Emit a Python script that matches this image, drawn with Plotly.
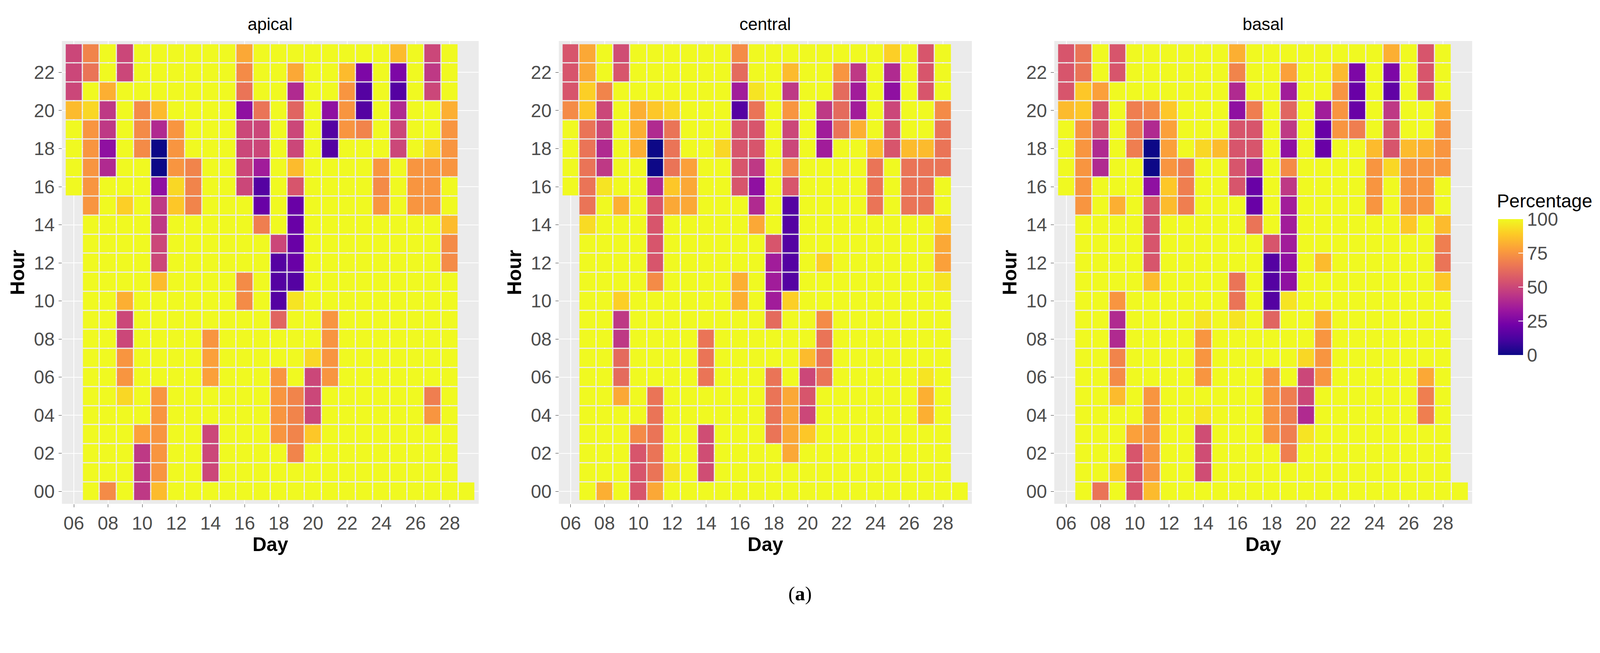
import plotly.graph_objects as go

N = None
days = list(range(6, 30))
hours = list(range(0, 24))
x_tick_vals = list(range(6, 29, 2))
x_tick_text = ["06", "08", "10", "12", "14", "16", "18", "20", "22", "24", "26", "28"]
y_tick_vals = list(range(0, 23, 2))
y_tick_text = ["00", "02", "04", "06", "08", "10", "12", "14", "16", "18", "20", "22"]
panel_titles = ["apical", "central", "basal"]

# rows = hours 0..23, columns = days 6..29
apical = [
    [N,100,72,100,45,85,100,100,100,100,100,100,100,100,100,100,100,100,100,100,100,100,100,100],
    [N,100,100,100,45,75,100,100,50,100,100,100,100,100,100,100,100,100,100,100,100,100,100,N],
    [N,100,100,100,45,75,100,100,50,100,100,100,100,70,100,100,100,100,100,100,100,100,100,N],
    [N,100,100,100,78,75,100,100,50,100,100,100,75,70,88,100,100,100,100,100,100,100,100,N],
    [N,100,100,100,100,75,100,100,100,100,100,100,75,70,50,100,100,100,100,100,100,75,100,N],
    [N,100,100,92,100,75,100,100,100,100,100,100,75,70,50,100,100,100,100,100,100,68,100,N],
    [N,100,100,75,100,100,100,100,78,100,100,100,75,100,50,75,100,100,100,100,100,100,100,N],
    [N,100,100,75,100,100,100,100,78,100,100,100,100,100,92,75,100,100,100,100,100,100,100,N],
    [N,100,100,50,100,100,100,100,75,100,100,100,100,100,100,75,100,100,100,100,100,100,100,N],
    [N,100,100,50,100,100,100,100,100,100,100,100,60,100,100,75,100,100,100,100,100,100,100,N],
    [N,100,100,82,100,100,100,100,100,100,72,100,15,95,100,100,100,100,100,100,100,100,100,N],
    [N,100,100,100,100,85,100,100,100,100,72,100,15,15,100,100,100,100,100,100,100,100,100,N],
    [N,100,100,100,100,50,100,100,100,100,100,100,15,20,100,100,100,100,100,100,100,100,72,N],
    [N,100,100,100,100,50,100,100,100,100,100,100,50,20,100,100,100,100,100,100,100,100,72,N],
    [N,100,100,100,100,45,100,100,100,100,100,68,100,20,100,100,100,100,100,100,100,100,85,N],
    [N,75,100,90,100,45,88,70,100,100,100,20,100,20,100,100,100,100,75,100,75,75,100,N],
    [100,75,100,100,100,30,92,70,100,100,50,15,100,55,100,100,100,100,72,100,75,75,100,N],
    [100,75,40,100,100,0,75,70,100,100,50,35,100,85,100,100,100,100,75,100,75,75,75,N],
    [100,75,30,100,72,0,75,100,100,100,50,50,100,50,100,15,100,100,100,50,100,92,75,N],
    [100,75,45,100,72,40,75,100,100,100,50,50,100,50,100,15,75,70,100,50,100,100,75,N],
    [85,92,45,100,72,85,100,100,100,100,30,65,100,60,100,30,75,15,100,40,100,100,82,N],
    [50,100,82,100,100,100,100,100,100,100,65,100,100,40,100,100,75,15,100,15,100,50,100,N],
    [50,65,100,50,100,100,100,100,100,100,72,100,100,80,100,100,85,25,100,25,100,45,100,N],
    [50,70,100,50,100,100,100,100,100,100,80,100,100,100,100,100,100,100,100,85,100,50,100,N],
]

central = [
    [N,100,82,100,55,80,100,100,100,100,100,100,100,100,100,100,100,100,100,100,100,100,100,100],
    [N,100,100,100,55,65,95,100,52,100,100,100,100,100,100,100,100,100,100,100,100,100,100,N],
    [N,100,100,100,55,65,100,100,52,100,100,100,100,80,100,100,100,100,100,100,100,100,100,N],
    [N,100,100,100,72,65,100,100,52,100,100,100,65,80,88,100,100,100,100,100,100,100,100,N],
    [N,100,100,100,100,65,100,100,100,100,100,100,65,80,50,100,100,100,100,100,100,82,100,N],
    [N,100,100,80,100,65,100,100,100,100,100,100,65,80,55,100,100,100,100,100,100,82,100,N],
    [N,100,100,62,100,100,100,100,65,100,100,100,65,100,50,65,100,100,100,100,100,95,100,N],
    [N,100,100,62,100,100,100,100,65,100,100,100,100,100,85,65,100,100,100,100,100,100,100,N],
    [N,100,100,45,100,100,100,100,65,100,100,100,100,100,100,65,100,100,100,100,100,100,100,N],
    [N,100,100,45,100,100,100,100,100,100,100,100,62,100,100,72,100,100,100,100,100,100,100,N],
    [N,100,100,90,100,100,100,100,100,100,82,100,35,90,100,100,100,100,100,100,100,100,100,N],
    [N,100,100,100,100,72,100,100,100,100,82,100,35,15,100,100,100,100,100,100,100,100,95,N],
    [N,100,100,100,100,55,100,100,100,100,100,100,35,15,100,90,100,100,100,100,100,100,78,N],
    [N,100,100,100,100,55,100,100,100,100,100,100,55,15,100,100,100,100,100,100,100,100,80,N],
    [N,93,100,100,100,55,100,100,100,100,100,80,100,15,100,100,100,100,100,100,100,100,90,N],
    [N,65,100,82,100,55,80,80,100,100,100,40,100,15,100,100,100,100,65,100,65,65,100,N],
    [100,65,95,100,100,40,88,80,100,100,55,30,100,55,100,100,100,100,65,100,65,65,100,N],
    [100,65,45,100,100,0,65,78,100,100,55,45,100,72,100,100,100,100,65,100,65,65,65,N],
    [100,65,40,100,82,0,65,100,100,92,55,55,100,50,100,35,100,100,85,55,85,85,65,N],
    [100,65,50,100,82,40,65,100,100,100,55,55,100,50,100,35,65,82,100,55,100,100,65,N],
    [72,88,50,100,82,88,92,100,100,100,15,65,100,75,100,45,62,35,100,50,100,100,72,N],
    [55,90,70,100,100,100,100,100,100,100,35,95,100,45,100,100,62,35,100,30,100,55,100,N],
    [55,80,100,55,100,100,100,100,100,100,62,100,100,85,100,100,75,45,100,40,100,55,100,N],
    [55,80,100,52,100,100,100,100,100,100,72,100,100,100,100,100,100,100,100,90,100,55,100,N],
]

basal = [
    [N,100,65,100,55,85,100,100,100,100,100,100,100,100,100,100,100,100,100,100,100,100,100,100],
    [N,100,100,90,55,75,100,100,52,100,100,100,100,100,100,100,100,100,100,100,100,100,100,N],
    [N,100,100,100,55,75,100,100,52,100,100,100,100,68,100,100,100,100,100,100,100,100,100,N],
    [N,100,100,100,78,75,100,100,52,100,100,100,75,68,95,100,100,100,100,100,100,100,100,N],
    [N,100,100,100,100,75,100,100,95,100,100,100,75,68,40,100,100,100,100,100,100,68,100,N],
    [N,100,100,85,100,75,100,100,100,100,100,100,75,68,50,100,100,100,100,100,100,68,100,N],
    [N,100,100,72,100,100,100,100,75,100,100,100,75,100,50,75,100,100,100,100,100,80,100,N],
    [N,100,100,70,100,100,100,100,75,100,100,100,100,100,92,75,100,100,100,100,100,100,100,N],
    [N,100,100,40,100,100,100,100,75,100,100,100,100,100,100,75,100,100,100,100,100,100,100,N],
    [N,100,100,40,100,100,100,100,95,100,95,100,60,100,100,82,100,100,100,100,100,100,100,N],
    [N,100,100,75,100,100,100,100,100,100,65,100,15,95,100,100,100,100,100,100,100,100,100,N],
    [N,100,100,100,100,85,100,100,100,100,65,100,15,30,100,100,100,100,100,100,100,100,88,N],
    [N,100,100,100,100,55,100,100,100,100,100,100,15,30,100,85,100,100,100,100,100,100,65,N],
    [N,100,100,100,100,55,100,100,100,100,100,100,55,35,100,100,100,100,100,100,100,100,68,N],
    [N,100,100,100,100,55,100,100,100,100,100,65,100,35,100,100,100,100,100,100,88,100,85,N],
    [N,75,100,82,100,55,85,68,100,100,100,20,100,35,100,100,100,100,75,100,75,75,100,N],
    [100,75,100,100,100,30,88,68,100,100,55,20,100,45,100,100,100,100,75,100,75,75,100,N],
    [100,75,40,100,100,0,75,68,100,100,55,40,100,72,100,100,100,100,75,92,75,75,75,N],
    [100,75,40,100,68,0,78,100,92,85,55,55,100,30,100,20,100,100,85,55,85,82,75,N],
    [100,75,55,100,68,40,78,100,100,100,55,55,100,45,100,20,75,68,100,55,100,100,75,N],
    [85,88,55,100,68,72,88,100,100,100,30,68,100,60,100,35,75,20,100,45,100,100,82,N],
    [55,88,78,100,100,100,100,100,100,100,40,100,100,35,100,100,75,20,100,18,100,55,100,N],
    [55,65,100,55,100,100,100,100,100,100,70,100,100,78,100,100,85,25,100,25,100,55,100,N],
    [55,65,100,55,100,100,100,100,100,100,82,100,100,100,100,100,100,100,100,82,100,55,100,N],
]

# Figure fills the browser viewport; positions below are reference pixels.
RW, RH = 4256, 1622
OFF = 8
S = 0.955  # font scale to compensate page zoom
panels = [apical, central, basal]
x_px = [(165, 1278), (1492, 2595), (2815, 3931)]


def fx(px):
    return (px - OFF) / RW


def fy(py):
    return 1 - (py - OFF) / RH


y_dom = [fy(1290), fy(105)]

fig = go.Figure()
tick_font = dict(family="Liberation Sans", size=50 * S, color="#4D4D4D")
title_font = dict(family="Liberation Sans", size=52 * S, color="black")

for i, (z, (x0, x1)) in enumerate(zip(panels, x_px)):
    xa = "x" if i == 0 else f"x{i+1}"
    ya = "y" if i == 0 else f"y{i+1}"
    fig.add_trace(go.Heatmap(
        x=days, y=hours, z=z, coloraxis="coloraxis",
        xgap=3, ygap=3, xaxis=xa, yaxis=ya, hoverongaps=False,
    ))
    xkey = "xaxis" if i == 0 else f"xaxis{i+1}"
    ykey = "yaxis" if i == 0 else f"yaxis{i+1}"
    fig.layout[xkey] = dict(
        domain=[fx(x0), fx(x1)], anchor=ya, range=[5.3, 29.7],
        tickvals=x_tick_vals, ticktext=x_tick_text, tickfont=tick_font,
        ticks="outside", ticklen=8, tickcolor="#333333", showgrid=True,
        gridcolor="white", gridwidth=2, zeroline=False, showline=False,
        title=dict(text="<b>Day</b>", font=title_font, standoff=2),
    )
    fig.layout[ykey] = dict(
        domain=y_dom, anchor=xa, range=[-0.65, 23.65],
        tickvals=y_tick_vals, ticktext=y_tick_text, tickfont=tick_font,
        ticks="outside", ticklen=8, tickcolor="#333333", showgrid=True,
        gridcolor="white", gridwidth=2, zeroline=False, showline=False,
        title=dict(text="<b>Hour</b>", font=title_font, standoff=8),
    )
    fig.add_annotation(
        text=panel_titles[i], xref="paper", yref="paper",
        x=fx((x0 + x1) / 2), y=fy(62), showarrow=False,
        font=dict(family="Liberation Sans", size=46 * S, color="black"),
        xanchor="center", yanchor="middle",
    )

fig.add_annotation(
    text="(<b>a</b>)", xref="paper", yref="paper", x=fx(2136), y=fy(1550),
    showarrow=False, font=dict(family="Liberation Serif", size=54 * S, color="black"),
)
fig.add_annotation(
    text="Percentage", xref="paper", yref="paper", x=fx(3995), y=fy(515),
    xanchor="left", yanchor="middle", showarrow=False,
    font=dict(family="Liberation Sans", size=50 * S, color="black"),
)

fig.update_layout(
    autosize=True, margin=dict(l=0, r=0, t=0, b=0),
    paper_bgcolor="white", plot_bgcolor="#EBEBEB",
    coloraxis=dict(
        colorscale="Plasma", cmin=0, cmax=100,
        colorbar=dict(
            x=fx(4000), xanchor="left", y=fy(909), yanchor="bottom",
            len=348 / RH, lenmode="fraction", thickness=64, xpad=0, ypad=0,
            tickvals=[0, 25, 50, 75, 100], ticks="inside", ticklen=12,
            tickcolor="white", tickwidth=2, outlinewidth=0,
            tickfont=dict(family="Liberation Sans", size=50 * S, color="#4D4D4D"),
        ),
    ),
)

fig.write_html("out.html", default_width="100%", default_height="97vh",
               config={"responsive": True})
